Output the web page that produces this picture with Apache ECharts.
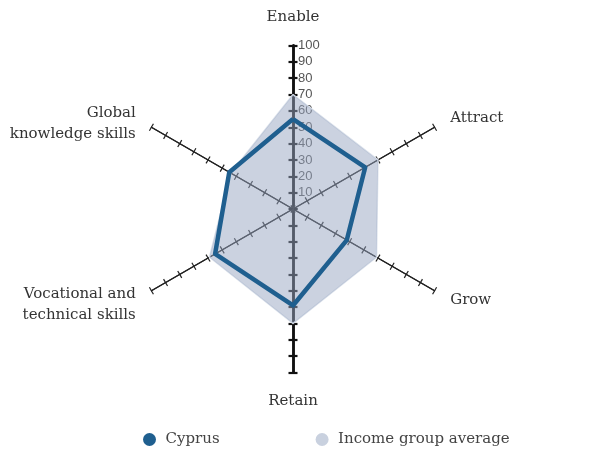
<!DOCTYPE html>
<html>
<head>
<meta charset="utf-8">
<script src="https://cdn.jsdelivr.net/npm/echarts@6/dist/echarts.min.js"></script>
<style>
  html, body { margin: 0; padding: 0; background: #fff; }
  #chart { width: 600px; height: 453px; }
</style>
</head>
<body>
<div id="chart"></div>
<script>
// indicators in counterclockwise order starting at the top
const axisNames = ['Enable', 'Global\nknowledge skills', 'Vocational and\ntechnical skills', 'Retain', 'Grow', 'Attract'];
const cyprusValues = [55, 45, 55, 59, 38, 51];
const incomeValues = [70, 44, 59, 70, 59, 60];
const seriesNames = ['Cyprus', 'Income group average'];

const serif = 'DejaVu Serif';
const center = [293, 209];
const radius = 163.5;

// main axes (Enable / Retain) get a heavier black line and labels on Enable
const heavy = i => i === 0 || i === 3;

// flip = true draws the ticks on the other side of each axis
const makeIndicators = (withLabels, flip) =>
  axisNames.map((name, i) => {
    const ind = { name, max: 100, min: 0 };
    if (heavy(i)) {
      ind.axisLine = { lineStyle: { color: '#111', width: 2.5 } };
      ind.axisTick = { length: flip ? -4.5 : 4.5, lineStyle: { color: '#111', width: 2.2 } };
    }
    if (withLabels && i === 0) {
      ind.axisLabel = { show: true };
    }
    return ind;
  });

// two-line names sit a bit lower in the original, push them down with a thin empty line
const nameFormatter = name => {
  const lines = name.split('\n').map(l => '{a|' + l + '}');
  if (lines.length > 1) lines.unshift('{s| }');
  return lines.join('\n');
};

const baseRadar = {
  center,
  radius,
  startAngle: 90,
  splitNumber: 10,
  shape: 'polygon',
  splitLine: { show: false },
  splitArea: { show: false },
  axisLine: { show: true, lineStyle: { color: '#222', width: 1.2 } },
};

const chart = echarts.init(document.getElementById('chart'));
chart.setOption({
  animation: false,
  legend: {
    data: seriesNames,
    left: 138,
    top: 427,
    icon: 'circle',
    itemWidth: 22,
    itemHeight: 13,
    itemGap: 96,
    textStyle: { fontFamily: serif, fontSize: 15, color: '#444' },
  },
  radar: [
    Object.assign({}, baseRadar, {
      indicator: makeIndicators(true, false),
      axisName: {
        color: '#333',
        fontFamily: serif,
        fontSize: 15,
        formatter: nameFormatter,
        rich: {
          a: { color: '#333', fontFamily: serif, fontSize: 15, lineHeight: 21 },
          s: { fontSize: 6, lineHeight: 10 },
        },
      },
      nameGap: 18,
      axisTick: { show: true, length: 4, lineStyle: { color: '#222', width: 1.2 } },
      axisLabel: {
        show: false,
        showMinLabel: false,
        color: '#555',
        fontFamily: 'Liberation Sans',
        fontSize: 13,
        margin: -5,
        align: 'left',
      },
    }),
    Object.assign({}, baseRadar, {
      indicator: makeIndicators(false, true),
      axisName: { show: false },
      axisTick: { show: true, length: -4, lineStyle: { color: '#222', width: 1.2 } },
      axisLabel: { show: false },
    }),
  ],
  series: [
    {
      type: 'radar',
      radarIndex: 0,
      symbol: 'none',
      data: [
        {
          name: seriesNames[1],
          value: incomeValues,
          itemStyle: { color: '#c9d1df' },
          lineStyle: { color: '#dde3ec', width: 1.5 },
          areaStyle: { color: '#98a6c2', opacity: 0.5 },
        },
      ],
    },
    {
      type: 'radar',
      radarIndex: 0,
      symbol: 'none',
      data: [
        {
          name: seriesNames[0],
          value: cyprusValues,
          itemStyle: { color: '#1f5f8f' },
          lineStyle: { color: '#1f5f8f', width: 4.5 },
        },
      ],
    },
  ],
});
</script>
</body>
</html>
